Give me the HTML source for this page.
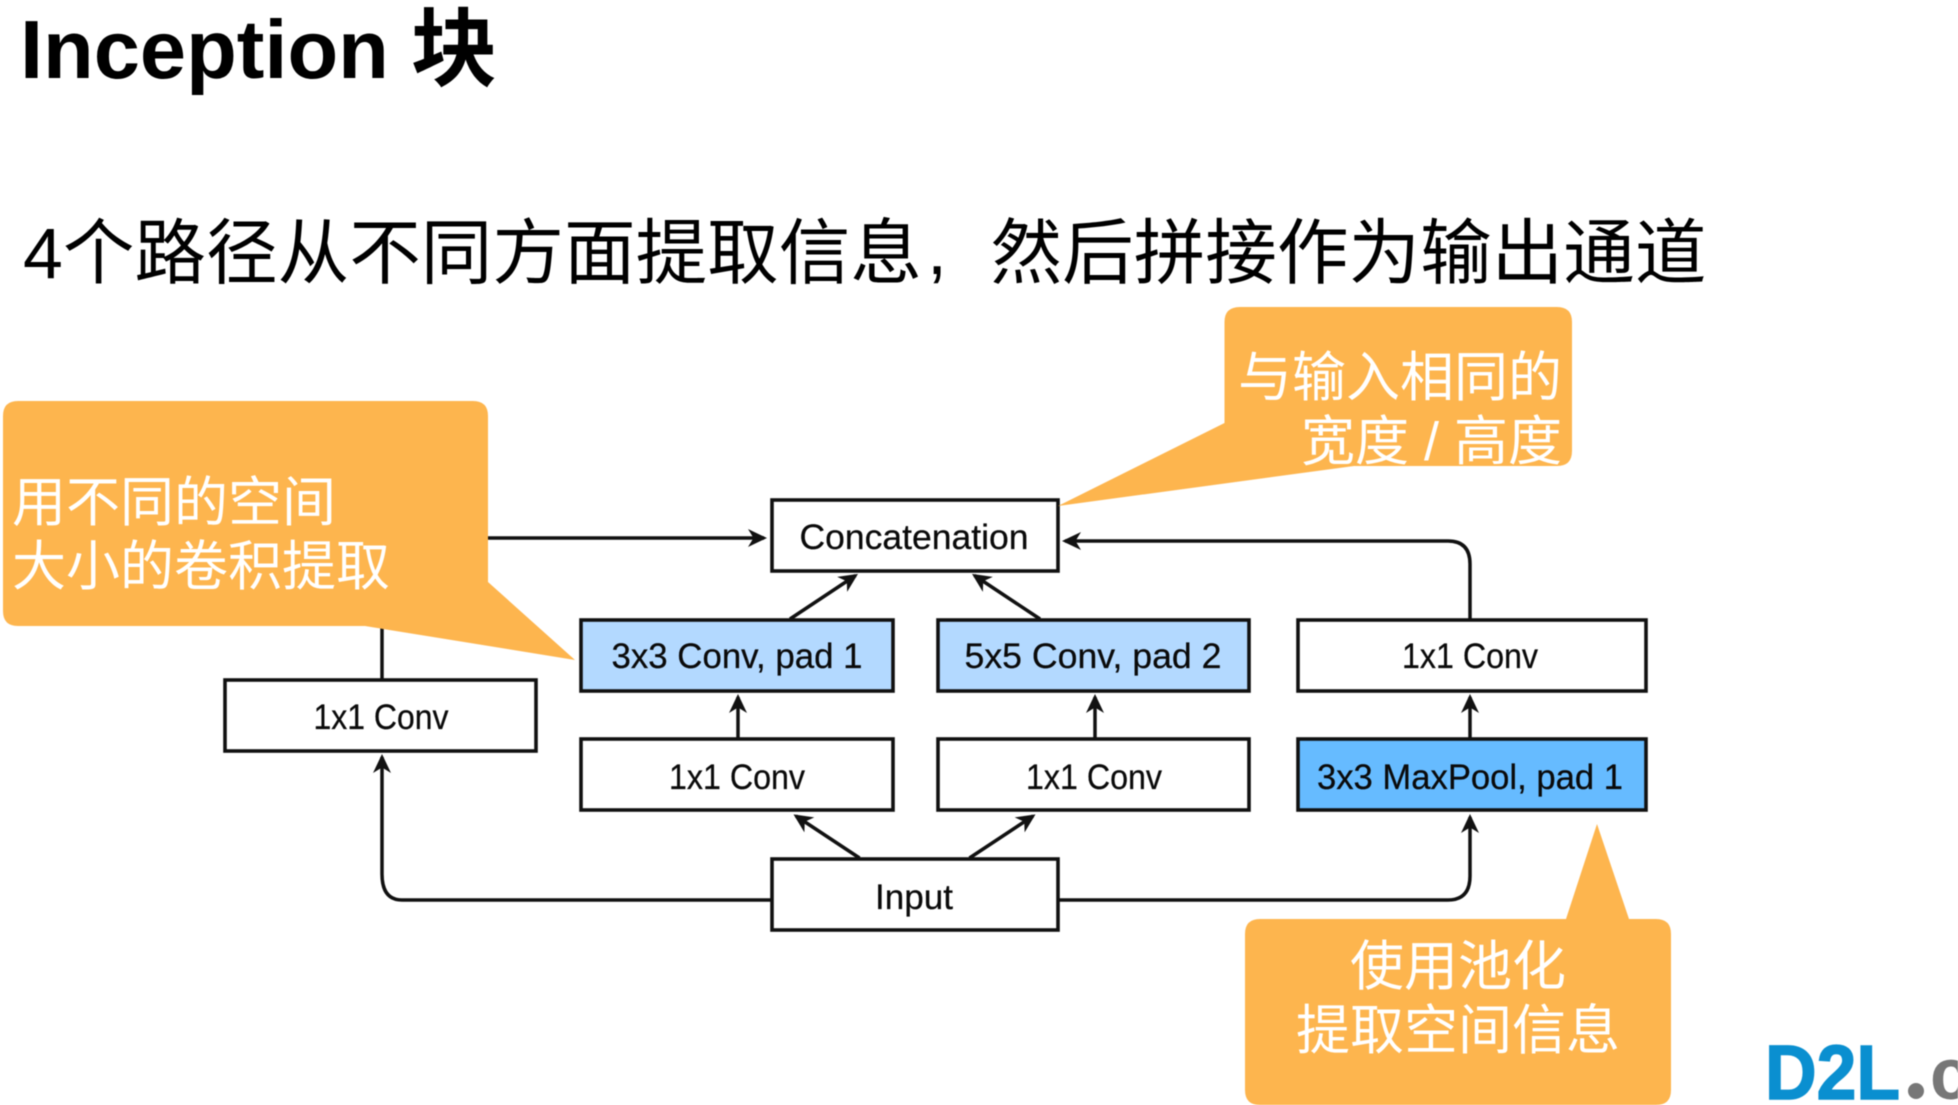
<!DOCTYPE html>
<html lang="zh">
<head>
<meta charset="utf-8">
<title>Inception 块</title>
<style>
html,body{margin:0;padding:0;background:#fff;width:1958px;height:1105px;overflow:hidden}
svg{display:block;filter:blur(.45px)}
.lat{font-family:"Liberation Sans","Noto Sans CJK SC",sans-serif}
.box{fill:#fff;stroke:#111;stroke-width:3.6}
.lbl{font-family:"Liberation Sans",sans-serif;font-size:35px;fill:#0a0a0a;stroke:#0a0a0a;stroke-width:.25;text-anchor:middle}
.ln{fill:none;stroke:#111;stroke-width:3.5}
.cn{font-family:"Liberation Sans","Noto Sans CJK SC",sans-serif;font-size:54px;fill:#fff}
</style>
</head>
<body>
<svg width="1958" height="1105" viewBox="0 0 1958 1105" xmlns="http://www.w3.org/2000/svg">
<defs>
<marker id="a" markerUnits="userSpaceOnUse" markerWidth="22" markerHeight="20" refX="18" refY="10" orient="auto" viewBox="0 0 22 20">
<path d="M21,10 L2,1 L7.5,10 L2,19 Z" fill="#111"/>
</marker>
</defs>

<text x="20" y="78" class="lat" font-size="83" font-weight="700" fill="#000">Inception</text>
<text x="411" y="79" class="lat" font-size="86" font-weight="700" fill="#000">块</text>
<text x="23" y="278" class="lat" font-size="71.6" fill="#000">4个路径从不同方面提取信息</text>
<text x="927" y="274" font-family="'Liberation Sans',sans-serif" font-size="72" fill="#000">,</text>
<text x="990.5" y="278" class="lat" font-size="71.6" fill="#000">然后拼接作为输出通道</text>

<!-- connectors -->
<path class="ln" d="M772,900 H402 Q382,900 382,874 V757" marker-end="url(#a)"/>
<path class="ln" d="M1058,900 H1448 Q1470,900 1470,876 V817" marker-end="url(#a)"/>
<path class="ln" d="M382,680 V620"/>
<path class="ln" d="M480,538 H764" marker-end="url(#a)"/>
<path class="ln" d="M1470,619 V564 Q1470,541 1448,541 H1065" marker-end="url(#a)"/>
<path class="ln" d="M738,738 V697" marker-end="url(#a)"/>
<path class="ln" d="M1095,738 V697" marker-end="url(#a)"/>
<path class="ln" d="M1470,738 V697" marker-end="url(#a)"/>
<path class="ln" d="M859.5,858 L796,816" marker-end="url(#a)"/>
<path class="ln" d="M969.5,858 L1033,816" marker-end="url(#a)"/>
<path class="ln" d="M790,619 L855.5,575.5" marker-end="url(#a)"/>
<path class="ln" d="M1040,619 L974.5,575.5" marker-end="url(#a)"/>

<!-- boxes -->
<rect class="box" x="772" y="500" width="286" height="71"/>
<text class="lbl" x="914" y="549" textLength="229" lengthAdjust="spacingAndGlyphs">Concatenation</text>

<rect class="box" x="581" y="620" width="312" height="71" style="fill:#b3d9ff"/>
<text class="lbl" x="737" y="668" textLength="251" lengthAdjust="spacingAndGlyphs">3x3 Conv, pad 1</text>
<rect class="box" x="938" y="620" width="311" height="71" style="fill:#b3d9ff"/>
<text class="lbl" x="1093" y="668" textLength="257" lengthAdjust="spacingAndGlyphs">5x5 Conv, pad 2</text>
<rect class="box" x="1298" y="620" width="348" height="71"/>
<text class="lbl" x="1470" y="668" textLength="136" lengthAdjust="spacingAndGlyphs">1x1 Conv</text>

<rect class="box" x="225" y="680" width="311" height="71"/>
<text class="lbl" x="381" y="729" textLength="135" lengthAdjust="spacingAndGlyphs">1x1 Conv</text>

<rect class="box" x="581" y="739" width="312" height="71"/>
<text class="lbl" x="737" y="789" textLength="136" lengthAdjust="spacingAndGlyphs">1x1 Conv</text>
<rect class="box" x="938" y="739" width="311" height="71"/>
<text class="lbl" x="1094" y="789" textLength="136" lengthAdjust="spacingAndGlyphs">1x1 Conv</text>
<rect class="box" x="1298" y="739" width="348" height="71" style="fill:#66bbff"/>
<text class="lbl" x="1470" y="789" textLength="306" lengthAdjust="spacingAndGlyphs">3x3 MaxPool, pad 1</text>

<rect class="box" x="772" y="859" width="286" height="71"/>
<text class="lbl" x="914" y="909" textLength="78" lengthAdjust="spacingAndGlyphs">Input</text>

<!-- callouts -->
<path fill="#fdb54e" d="M18,401 H473 Q488,401 488,416 V582 L575,660 L365,626 H18 Q3,626 3,611 V416 Q3,401 18,401 Z"/>
<text class="cn" x="12" y="521">用不同的空间</text>
<text class="cn" x="12" y="585">大小的卷积提取</text>

<path fill="#fdb54e" d="M1240,307 H1557 Q1572,307 1572,322 V451 Q1572,466 1557,466 H1354 L1058,506 L1224.5,423 V322 Q1224.5,307 1240,307 Z"/>
<text class="cn" x="1562" y="396" text-anchor="end">与输入相同的</text>
<text class="cn" x="1562" y="460" text-anchor="end">宽度 / 高度</text>

<path fill="#fdb54e" d="M1260,919 H1566 L1597,824 L1629,919 H1656 Q1671,919 1671,934 V1090 Q1671,1105 1656,1105 H1260 Q1245,1105 1245,1090 V934 Q1245,919 1260,919 Z"/>
<text class="cn" x="1458" y="985" text-anchor="middle">使用池化</text>
<text class="cn" x="1458" y="1049" text-anchor="middle">提取空间信息</text>

<!-- logo -->
<text x="1765" y="1099" font-family="'Liberation Sans',sans-serif" font-size="77" font-weight="700" fill="#0a8fd0" stroke="#0a8fd0" stroke-width="1.5" textLength="135" lengthAdjust="spacingAndGlyphs">D2L</text>
<circle cx="1916" cy="1091" r="8" fill="#777"/>
<text x="1930" y="1099" font-family="'Liberation Sans',sans-serif" font-size="72" font-weight="700" fill="#777">c</text>
</svg>
</body>
</html>
